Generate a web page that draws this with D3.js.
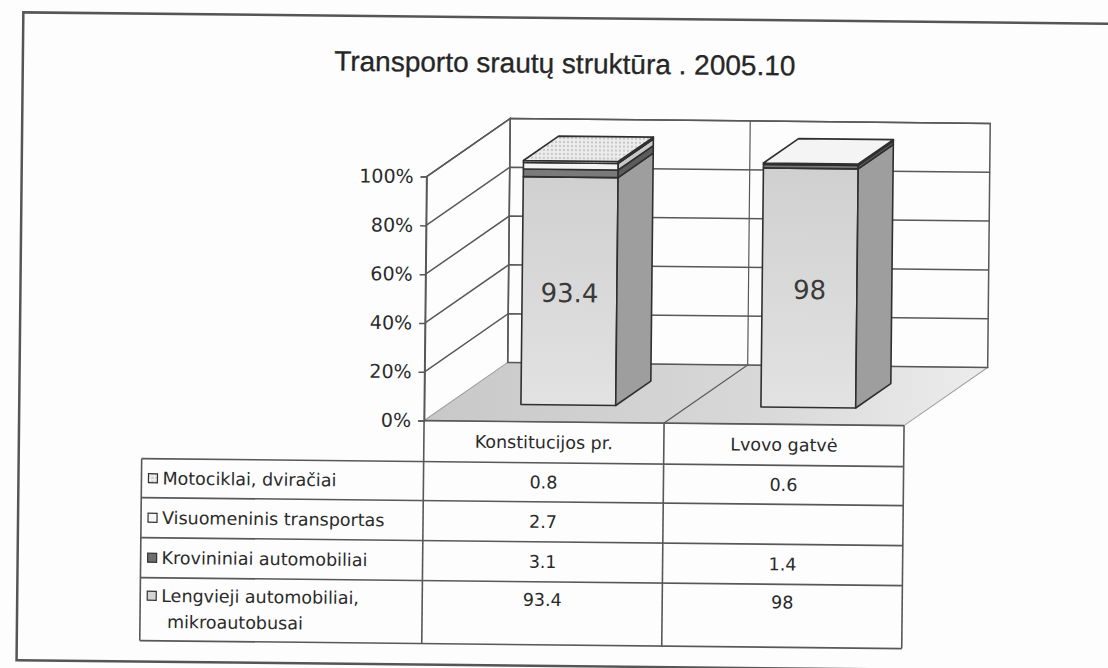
<!DOCTYPE html>
<html lang="lt">
<head>
  <meta charset="UTF-8">
  <title>Transporto srautų struktūra . 2005.10</title>
  <script src="https://d3js.org/d3.v7.min.js"></script>
  <style>
    body { margin: 0; background: #fdfdfd; }
    svg { display: block; }
  </style>
</head>
<body>
  <div id="chart"></div>
  <script>
    // categories (columns of the data table)
    const categories = ["Konstitucijos pr.", "Lvovo gatvė"];

    // series, bottom of the stack first
    const seriesNames = ["Lengvieji automobiliai, mikroautobusai", "Krovininiai automobiliai", "Visuomeninis transportas", "Motociklai, dviračiai"];
    const lengvieji = [93.4, 98];
    const krovininiai = [3.1, 1.4];
    const visuomeninis = [2.7, null];
    const motociklai = [0.8, 0.6];
    const seriesValues = [lengvieji, krovininiai, visuomeninis, motociklai];

    const yTicks = [0, 20, 40, 60, 80, 100];

    const width = 1108, height = 668;
    const svg = d3.select("#chart").append("svg")
      .attr("width", width)
      .attr("height", height);

    const defs = svg.append("defs");
    const floorGrad = defs.append("linearGradient").attr("id", "floorGrad");
    floorGrad.append("stop").attr("offset", "0%").attr("stop-color", "#c8c8c8");
    floorGrad.append("stop").attr("offset", "60%").attr("stop-color", "#d8d8d8");
    floorGrad.append("stop").attr("offset", "100%").attr("stop-color", "#ededed");

    const frontGrad = defs.append("linearGradient").attr("id", "frontGrad")
      .attr("x1", 0).attr("y1", 0).attr("x2", 0).attr("y2", 1);
    frontGrad.append("stop").attr("offset", "0%").attr("stop-color", "#d0d0d0");
    frontGrad.append("stop").attr("offset", "100%").attr("stop-color", "#e2e2e2");

    const dots = defs.append("pattern").attr("id", "dots")
      .attr("width", 4).attr("height", 4).attr("patternUnits", "userSpaceOnUse");
    dots.append("rect").attr("width", 4).attr("height", 4).attr("fill", "#ececec");
    dots.append("circle").attr("cx", 2).attr("cy", 2).attr("r", 0.8).attr("fill", "#999");

    // colours of each series: front face / side face
    const frontFill = ["url(#frontGrad)", "#7a7a7a", "#f3f3f3", "url(#dots)"];
    const sideFill = ["#9e9e9e", "#5c5c5c", "#c8c8c8", "#c0c0c0"];

    // the scan is slightly tilted
    const g = svg.append("g").attr("transform", "rotate(0.6, 560, 334)");

    // outer frame
    g.append("rect")
      .attr("x", 20).attr("y", 18)
      .attr("width", 1100).attr("height", 648)
      .attr("fill", "none")
      .attr("stroke", "#555")
      .attr("stroke-width", 2.5);

    g.append("text")
      .attr("x", 562).attr("y", 73)
      .attr("text-anchor", "middle")
      .attr("font-family", "Liberation Sans, Arial, sans-serif")
      .attr("font-size", 28)
      .attr("fill", "#262626")
      .attr("stroke", "#262626").attr("stroke-width", 0.3)
      .text("Transporto srautų struktūra . 2005.10");

    // plot geometry
    const x0 = 425, x1 = 905;
    const dX = 83, dY = -59;       // depth of the 3D box
    const x = d3.scaleBand().domain(categories).range([x0, x1]);
    const y = d3.scaleLinear().domain([0, 100]).range([422, 178]);
    const lineCol = "#585858";

    // floor
    g.append("path")
      .attr("d", `M${x0},${y(0)}L${x1},${y(0)}L${x1 + dX},${y(0) + dY}L${x0 + dX},${y(0) + dY}Z`)
      .attr("fill", "url(#floorGrad)")
      .attr("stroke", "#9a9a9a")
      .attr("stroke-width", 1);

    // left wall & back wall
    g.append("path")
      .attr("d", `M${x0},${y(0)}L${x0},${y(100)}L${x0 + dX},${y(100) + dY}L${x0 + dX},${y(0) + dY}`)
      .attr("fill", "none").attr("stroke", lineCol).attr("stroke-width", 1.5);
    g.append("rect")
      .attr("x", x0 + dX).attr("y", y(100) + dY)
      .attr("width", x1 - x0).attr("height", y(0) - y(100))
      .attr("fill", "none").attr("stroke", lineCol).attr("stroke-width", 1.5);

    // gridlines on both walls
    const grid = g.append("g").attr("stroke", lineCol).attr("stroke-width", 1.5).attr("fill", "none");
    grid.selectAll(".gl").data(yTicks.filter(d => d > 0)).join("path")
      .attr("d", d => `M${x0},${y(d)}L${x0 + dX},${y(d) + dY}L${x1 + dX},${y(d) + dY}`);

    // category dividers on floor and back wall
    categories.slice(1).forEach(c => {
      grid.append("path")
        .attr("d", `M${x(c)},${y(0)}L${x(c) + dX},${y(0) + dY}L${x(c) + dX},${y(100) + dY}`)
        .attr("stroke-width", 1.2);
    });

    // y axis
    const axis = g.append("g")
      .attr("transform", `translate(${x0},0)`)
      .call(d3.axisLeft(y).tickValues(yTicks).tickFormat(d => d + "%").tickSize(6).tickPadding(7));
    axis.select(".domain").attr("stroke", lineCol).attr("stroke-width", 1.5);
    axis.selectAll(".tick line").attr("stroke", lineCol).attr("stroke-width", 1.5);
    axis.selectAll(".tick text")
      .attr("font-family", "DejaVu Sans, sans-serif")
      .attr("font-size", 19)
      .attr("fill", "#2a2a2a");

    // bars
    const bw = x.bandwidth() * 0.395;
    const f0 = 0.29, f1 = 0.71;              // bar sits in the middle of the depth
    const fx = dX * f0, fy = dY * f0;
    const bx = dX * (f1 - f0), by = dY * (f1 - f0);

    const bars = g.append("g").attr("stroke", "#2f2f2f").attr("stroke-width", 1.6).attr("stroke-linejoin", "round");
    categories.forEach((c, i) => {
      const left = x(c) + (x.bandwidth() - bw) / 2 + fx;
      const right = left + bw;
      let acc = 0;
      seriesValues.forEach((vals, s) => {
        const v = vals[i];
        if (!v) return;
        const yb = y(acc) + fy, yt = y(acc + v) + fy;
        bars.append("rect")
          .attr("x", left).attr("y", yt)
          .attr("width", bw).attr("height", yb - yt)
          .attr("fill", frontFill[s]);
        bars.append("path")
          .attr("d", `M${right},${yb}L${right},${yt}L${right + bx},${yt + by}L${right + bx},${yb + by}Z`)
          .attr("fill", sideFill[s]);
        acc += v;
      });
      const yt = y(acc) + fy;
      bars.append("path")
        .attr("d", `M${left},${yt}L${right},${yt}L${right + bx},${yt + by}L${left + bx},${yt + by}Z`)
        .attr("fill", i === 0 ? "url(#dots)" : "#f4f4f4");

      // value label of the main series
      g.append("text")
        .attr("x", left + bw / 2)
        .attr("y", y(lengvieji[i] / 2) + fy + 2)
        .attr("dy", "0.35em")
        .attr("text-anchor", "middle")
        .attr("font-family", "DejaVu Sans, sans-serif")
        .attr("font-size", 26)
        .attr("fill", "#3a3a3a")
        .text(lengvieji[i]);
    });

    // data table
    const tLeft = 143;
    const headerTop = y(0), headerBottom = 463;
    const rowEdges = [463, 502, 542, 582, 645];
    const tableFont = "DejaVu Sans, sans-serif";
    const txtCol = "#2a2a2a";
    const tbl = g.append("g").attr("stroke", lineCol).attr("stroke-width", 1.6).attr("fill", "none");

    tbl.append("path").attr("d", `M${x0},${headerTop}L${x0},${rowEdges[4]}`);
    categories.forEach(c => {
      tbl.append("path").attr("d", `M${x(c) + x.bandwidth()},${headerTop}L${x(c) + x.bandwidth()},${rowEdges[4]}`);
    });
    tbl.append("path").attr("d", `M${x0},${headerTop}L${x1},${headerTop}`);
    tbl.append("path").attr("d", `M${tLeft},${rowEdges[0]}L${tLeft},${rowEdges[4]}`);
    rowEdges.forEach(r => tbl.append("path").attr("d", `M${tLeft},${r}L${x1},${r}`));

    g.selectAll(".colhead").data(categories).join("text")
      .attr("x", d => x(d) + x.bandwidth() / 2)
      .attr("y", (headerTop + headerBottom) / 2)
      .attr("dy", "0.35em")
      .attr("text-anchor", "middle")
      .attr("font-family", tableFont).attr("font-size", 17.5).attr("fill", txtCol)
      .text(d => d);

    // rows are listed top series first
    const rowOrder = [3, 2, 1, 0];
    const rowLines = [["Motociklai, dviračiai"], ["Visuomeninis transportas"], ["Krovininiai automobiliai"], ["Lengvieji automobiliai,", "mikroautobusai"]];
    const keyFill = ["#d4d4d4", "#6e6e6e", "#f6f6f6", "url(#dots)"];
    rowOrder.forEach((s, r) => {
      const top = rowEdges[r];
      const cy = r === 3 ? top + 18 : (rowEdges[r] + rowEdges[r + 1]) / 2;
      g.append("rect")
        .attr("x", 150).attr("y", cy - 4.5)
        .attr("width", 9).attr("height", 9)
        .attr("fill", keyFill[s]).attr("stroke", "#333").attr("stroke-width", 1.2);
      rowLines[r].forEach((ln, k) => {
        g.append("text")
          .attr("x", k === 0 ? 164 : 170)
          .attr("y", cy + k * 26)
          .attr("dy", "0.35em")
          .attr("font-family", tableFont).attr("font-size", 17.5).attr("fill", txtCol)
          .text(ln);
      });
      categories.forEach((c, i) => {
        const v = seriesValues[s][i];
        if (v == null) return;
        g.append("text")
          .attr("x", x(c) + x.bandwidth() / 2)
          .attr("y", cy)
          .attr("dy", "0.35em")
          .attr("text-anchor", "middle")
          .attr("font-family", tableFont).attr("font-size", 17.5).attr("fill", txtCol)
          .text(v);
      });
    });
  </script>
</body>
</html>
